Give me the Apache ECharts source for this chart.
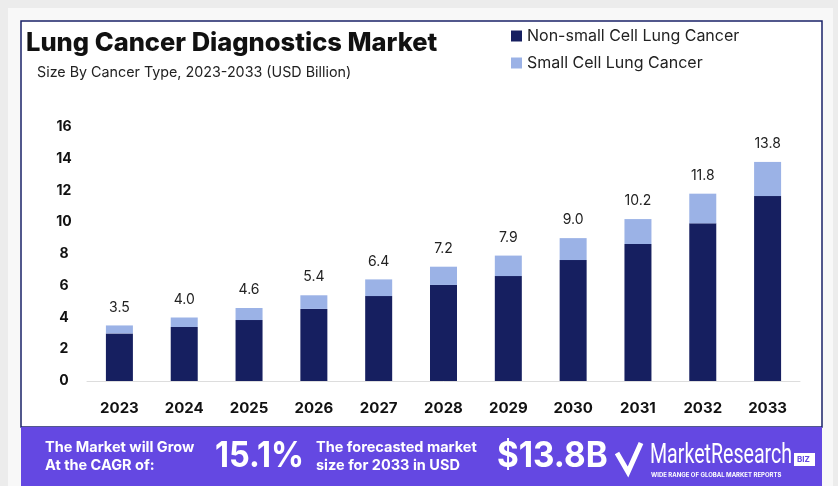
<!DOCTYPE html>
<html>
<head>
<meta charset="utf-8">
<script src="https://cdn.jsdelivr.net/npm/echarts@6/dist/echarts.min.js"></script>
<style>
html,body{margin:0;padding:0;background:#ececec;}
#chart{width:838px;height:486px;}
</style>
</head>
<body>
<div id="chart"></div>
<script>
const years = ['2023','2024','2025','2026','2027','2028','2029','2030','2031','2032','2033'];
const nonSmallCell = [3.0, 3.4, 3.84, 4.54, 5.35, 6.05, 6.61, 7.62, 8.63, 9.93, 11.65];
const smallCell = [0.5, 0.6, 0.76, 0.86, 1.05, 1.15, 1.29, 1.38, 1.57, 1.87, 2.15];
const totals = [3.5, 4.0, 4.6, 5.4, 6.4, 7.2, 7.9, 9.0, 10.2, 11.8, 13.8];
const yTicks = [0, 2, 4, 6, 8, 10, 12, 14, 16];

const FONT = 'Inter, "Noto Sans", sans-serif';
const chart = echarts.init(document.getElementById('chart'));
chart.setOption({
  animation: false,
  textStyle: {fontFamily: FONT},
  title: {
    text: 'Lung Cancer Diagnostics Market',
    left: 21, top: 25,
    textStyle: {fontFamily: FONT, fontSize: 25.5, fontWeight: 800, color: '#111'}
  },
  legend: {
    orient: 'vertical', left: 506, top: 23, itemGap: 11,
    itemWidth: 11, itemHeight: 11, icon: 'rect',
    textStyle: {fontFamily: FONT, fontSize: 16, color: '#222'},
    data: ['Non-small Cell Lung Cancer', 'Small Cell Lung Cancer']
  },
  grid: {left: 87, right: 38, top: 127, bottom: 105, containLabel: false},
  xAxis: {
    type: 'category', data: years,
    axisLine: {lineStyle: {color: '#dddddd', width: 1}},
    axisTick: {show: false},
    axisLabel: {margin: 20, fontFamily: FONT, fontSize: 15, fontWeight: 700, color: '#111'}
  },
  yAxis: {
    type: 'value', min: yTicks[0], max: yTicks[yTicks.length-1], interval: 2,
    axisLine: {show: false}, axisTick: {show: false}, splitLine: {show: false},
    axisLabel: {margin: 23, align: 'center', fontFamily: FONT, fontSize: 14, fontWeight: 700, color: '#111'}
  },
  series: [
    {name: 'Non-small Cell Lung Cancer', type: 'bar', stack: 'a', barWidth: 27,
     itemStyle: {color: '#161f60'}, data: nonSmallCell},
    {name: 'Small Cell Lung Cancer', type: 'bar', stack: 'a', barWidth: 27,
     itemStyle: {color: '#9bb2e6'}, data: smallCell,
     label: {show: true, position: 'top', distance: 11, fontFamily: FONT, fontSize: 14, color: '#222',
       formatter: p => totals[p.dataIndex].toFixed(1)}}
  ],
  graphic: [
    {type: 'rect', z: -10, silent: true, shape: {x: 8, y: 8, width: 825, height: 478}, style: {fill: '#f8f8f8'}},
    {type: 'rect', z: -9, silent: true, shape: {x: 21, y: 21, width: 801, height: 406}, style: {fill: '#ffffff', stroke: '#1a2268', lineWidth: 1.5}},
    {type: 'rect', z: -8, silent: true, shape: {x: 21, y: 427, width: 801, height: 59}, style: {fill: '#6448e2'}},
    {type: 'text', z: 100, x: 37, y: 66, style: {text: 'Size By Cancer Type, 2023-2033 (USD Billion)', fill: '#222', font: '400 14.3px ' + FONT}},
    {type: 'text', z: 100, x: 45, y: 439, style: {text: 'The Market will Grow\nAt the CAGR of:', fill: '#fff', font: '700 14.5px ' + FONT, lineHeight: 18}},
    {type: 'text', z: 100, x: 215, y: 439, scaleX: 0.93, style: {text: '15.1%', fill: '#fff', font: '700 35px ' + FONT}},
    {type: 'text', z: 100, x: 316, y: 439, style: {text: 'The forecasted market\nsize for 2033 in USD', fill: '#fff', font: '700 14.5px ' + FONT, lineHeight: 18}},
    {type: 'text', z: 100, x: 497, y: 439, scaleX: 0.95, style: {text: '$13.8B', fill: '#fff', font: '700 35px ' + FONT}},
    {type: 'polyline', z: 100, shape: {points: [[617,453],[628,472],[641,443]]}, style: {stroke: '#fff', lineWidth: 5, fill: null, lineJoin: 'miter'}},
    {type: 'polyline', z: 101, shape: {points: [[624,453],[628,461],[634,449]]}, style: {stroke: '#6448e2', lineWidth: 2, fill: null}},
    {type: 'text', z: 100, x: 650, y: 442, scaleX: 0.7, style: {text: 'MarketResearch', fill: '#fff', font: '400 28px Roboto, sans-serif'}},
    {type: 'rect', z: 100, shape: {x: 794, y: 453, width: 21, height: 13}, style: {fill: '#fff'}},
    {type: 'text', z: 101, x: 797, y: 455.5, style: {text: 'BIZ', fill: '#6448e2', font: '700 8px ' + FONT}},
    {type: 'text', z: 100, x: 651, y: 472, style: {text: 'WIDE RANGE OF GLOBAL MARKET REPORTS', fill: '#fff', font: '700 6px ' + FONT}}
  ]
});
</script>
</body>
</html>
